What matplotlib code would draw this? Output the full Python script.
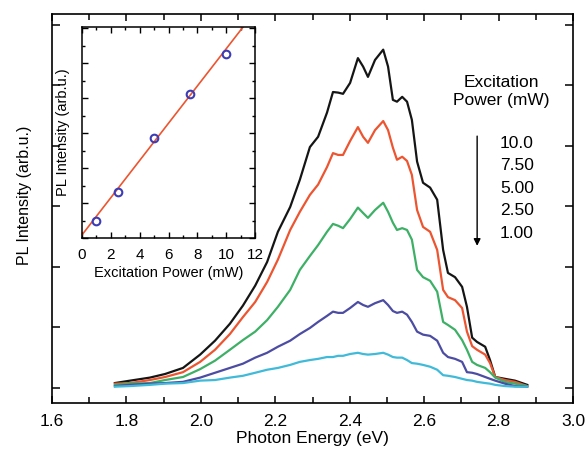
import matplotlib
matplotlib.use("Agg")
import matplotlib.pyplot as plt
from matplotlib.ticker import MultipleLocator

plt.rcParams['font.family'] = ['Liberation Sans', 'DejaVu Sans']

# ---- main panel data ----
energy = [1.769, 1.810, 1.863, 1.904, 1.952, 1.998, 2.038, 2.078, 2.113, 2.146,
          2.178, 2.207, 2.240, 2.266, 2.293, 2.315, 2.339, 2.355, 2.369, 2.382,
          2.401, 2.422, 2.436, 2.449, 2.468, 2.490, 2.503, 2.516, 2.527, 2.541,
          2.554, 2.567, 2.581, 2.597, 2.616, 2.635, 2.651, 2.664, 2.683, 2.702,
          2.715, 2.729, 2.742, 2.764, 2.777, 2.791, 2.817, 2.844, 2.877]
pl_10mW = [0.08, 0.12, 0.17, 0.23, 0.33, 0.55, 0.78, 1.06, 1.36, 1.69,
           2.08, 2.58, 2.99, 3.44, 3.98, 4.15, 4.55, 4.89, 4.88, 4.86,
           5.04, 5.45, 5.31, 5.14, 5.42, 5.59, 5.31, 4.76, 4.73, 4.81,
           4.73, 4.43, 3.74, 3.39, 3.31, 3.11, 2.28, 1.90, 1.83, 1.67,
           1.34, 0.83, 0.76, 0.68, 0.46, 0.18, 0.15, 0.12, 0.05]
pl_7p5mW = [0.07, 0.08, 0.13, 0.18, 0.26, 0.43, 0.63, 0.89, 1.17, 1.42,
            1.75, 2.12, 2.61, 2.91, 3.19, 3.36, 3.65, 3.88, 3.85, 3.85,
            4.08, 4.31, 4.15, 4.05, 4.26, 4.41, 4.26, 3.97, 3.77, 3.82,
            3.75, 3.52, 2.94, 2.66, 2.58, 2.28, 1.62, 1.50, 1.45, 1.32,
            0.93, 0.69, 0.63, 0.55, 0.41, 0.18, 0.13, 0.10, 0.03]
pl_5mW = [0.05, 0.07, 0.08, 0.13, 0.18, 0.31, 0.45, 0.63, 0.79, 0.93,
          1.12, 1.34, 1.62, 1.95, 2.18, 2.36, 2.58, 2.71, 2.68, 2.64,
          2.79, 2.98, 2.89, 2.81, 2.94, 3.06, 2.91, 2.73, 2.61, 2.64,
          2.61, 2.45, 1.95, 1.83, 1.77, 1.59, 1.09, 1.04, 0.96, 0.79,
          0.63, 0.43, 0.38, 0.33, 0.26, 0.17, 0.10, 0.07, 0.03]
pl_2p5mW = [0.03, 0.05, 0.07, 0.08, 0.10, 0.17, 0.25, 0.33, 0.40, 0.50,
            0.58, 0.68, 0.78, 0.89, 0.99, 1.09, 1.19, 1.26, 1.24, 1.24,
            1.32, 1.42, 1.37, 1.34, 1.40, 1.45, 1.37, 1.27, 1.24, 1.26,
            1.21, 1.09, 0.93, 0.88, 0.86, 0.78, 0.58, 0.51, 0.48, 0.43,
            0.26, 0.25, 0.23, 0.18, 0.15, 0.12, 0.07, 0.03, 0.02]
pl_1mW = [0.02, 0.03, 0.05, 0.07, 0.08, 0.12, 0.13, 0.17, 0.20, 0.25,
          0.30, 0.33, 0.38, 0.43, 0.46, 0.48, 0.51, 0.51, 0.53, 0.53,
          0.56, 0.58, 0.56, 0.55, 0.56, 0.58, 0.55, 0.51, 0.50, 0.50,
          0.46, 0.41, 0.40, 0.38, 0.35, 0.30, 0.21, 0.20, 0.18, 0.15,
          0.13, 0.12, 0.10, 0.08, 0.07, 0.05, 0.03, 0.02, 0.02]
series = [pl_10mW, pl_7p5mW, pl_5mW, pl_2p5mW, pl_1mW]
colors = ['#151515', '#ec5530', '#3db066', '#4b4ca2', '#3fbad8']
power_labels = ['10.0', '7.50', '5.00', '2.50', '1.00']

# ---- inset data ----
power = [1.0, 2.5, 5.0, 7.5, 10.0]
integrated = [0.49, 1.31, 2.86, 4.11, 5.26]
fit_x = [0.0, 12.0]
fit_y = [0.09, 6.47]

fig = plt.figure(figsize=(5.85, 4.5), dpi=100)
ax = fig.add_axes([0.0889, 0.1044, 0.8906, 0.8646])
for y, c in zip(series, colors):
    ax.plot(energy, y, color=c, lw=1.6, solid_joinstyle='round')

ax.set_xlim(1.6, 3.0)
ax.set_ylim(-0.25, 6.18)
ax.xaxis.set_major_locator(MultipleLocator(0.2))
ax.xaxis.set_minor_locator(MultipleLocator(0.1))
ax.yaxis.set_major_locator(MultipleLocator(1))
ax.set_yticklabels([])
ax.tick_params(which='both', direction='in', top=True, right=True, width=1.1)
ax.tick_params(which='major', length=5, labelsize=12.5, pad=8)
ax.tick_params(which='minor', length=4)
ax.tick_params(axis='y', which='major', length=6)
for s in ax.spines.values():
    s.set_linewidth(1.2)
ax.set_xlabel('Photon Energy (eV)', fontsize=12.5, labelpad=1)
ax.set_ylabel('PL Intensity (arb.u.)', fontsize=11.5)
ax.yaxis.set_label_coords(-0.038, 0.535)

# legend text
ax.text(0.863, 0.801, 'Excitation\nPower (mW)', transform=ax.transAxes,
        ha='center', va='center', fontsize=12.5, linespacing=1.25)
for i, lab in enumerate(power_labels):
    ax.text(0.86, 0.668 - i * 0.0578, lab, transform=ax.transAxes,
            ha='left', va='center', fontsize=12.5)
ax.annotate('', xy=(0.816, 0.404), xytext=(0.816, 0.686), xycoords='axes fraction',
            arrowprops=dict(arrowstyle='-|>', color='black', lw=1.0,
                            mutation_scale=10, shrinkA=0, shrinkB=0))

# inset
ins = fig.add_axes([0.1402, 0.4711, 0.2957, 0.4689])
ins.plot(fit_x, fit_y, color='#ec5530', lw=1.2)
ins.plot(power, integrated, 'o', mfc='none', mec='#3c3cb4', mew=1.5, ms=5.5)
ins.set_xlim(0, 12)
ins.set_ylim(0, 6.03)
ins.xaxis.set_major_locator(MultipleLocator(2))
ins.xaxis.set_minor_locator(MultipleLocator(1))
ins.yaxis.set_major_locator(MultipleLocator(1))
ins.yaxis.set_minor_locator(MultipleLocator(0.5))
ins.set_yticklabels([])
ins.tick_params(which='both', direction='in', top=True, right=True, width=1.0)
ins.tick_params(which='major', length=4.5, labelsize=11, pad=7)
ins.tick_params(which='minor', length=2.5)
for s in ins.spines.values():
    s.set_linewidth(1.1)
ins.set_xlabel('Excitation Power (mW)', fontsize=10.5, labelpad=3)
ins.set_ylabel('PL Intensity (arb.u.)', fontsize=10.5, labelpad=2)

fig.savefig('out.png', dpi=100)
